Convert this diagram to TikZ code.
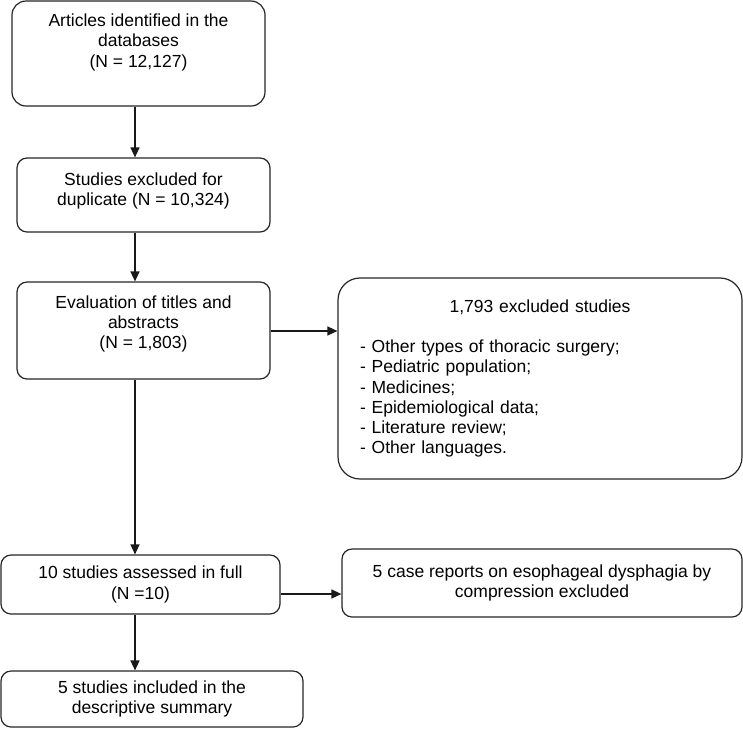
\documentclass[tikz,border=0pt]{standalone}
\usepackage{fontspec}
\setmainfont{Liberation Sans}
\usetikzlibrary{arrows.meta}

\begin{document}
\begin{tikzpicture}
    [
        x=1pt, y=-1pt,
        flow_box/.style={rectangle, rounded corners=10pt, draw=black!85, line width=1.2pt, fill=white, align=center, inner sep=0pt, font=\fontsize{17.5pt}{20.2pt}\selectfont},
        flow_arrow/.style={-{Triangle[length=10pt, width=9pt]}, line width=1.4pt, color=black!90},
    ]
        \useasboundingbox (0,0) rectangle (743,729);
        \coordinate (spine) at (135,0);
        \coordinate (screen_row) at (0,331);
        \coordinate (side_row) at (0,594);
        \node[flow_box, rounded corners=14pt, minimum width=253pt, minimum height=105pt, text depth=26pt] (found) at (138.5,53.5) {Articles identified in the\\databases\\(N = 12,127)} ;
        \node[flow_box, minimum width=253pt, minimum height=74pt, text depth=12pt] (dup) at (143.5,195) {Studies excluded for\\duplicate (N = 10,324)} ;
        \node[flow_box, minimum width=253pt, minimum height=97pt, text depth=17pt] (screen) at (143.5,330.5) {Evaluation of titles and\\abstracts\\(N = 1,803)} ;
        \node[flow_box, rounded corners=22pt, align=left, text width=360pt, minimum width=404pt, minimum height=201pt] (excluded) at (540,378.5) {\makebox[\hsize]{1,793 excluded studies}\\[20.2pt]- Other types of thoracic surgery;\\- Pediatric population;\\- Medicines;\\- Epidemiological data;\\- Literature review;\\- Other languages.} ;
        \node[flow_box, minimum width=279pt, minimum height=59pt] (full) at (140.5,584.5) {10 studies assessed in full\\(N =10)} ;
        \node[flow_box, minimum width=400pt, minimum height=68pt] (reports) at (542,583) {5 case reports on esophageal dysphagia by\\compression excluded} ;
        \node[flow_box, minimum width=302pt, minimum height=56pt] (included) at (152,699) {5 studies included in the\\descriptive summary} ;
        \draw[flow_arrow] (found.south -| spine) -- (dup.north -| spine) ;
        \draw[flow_arrow] (dup.south -| spine) -- (screen.north -| spine) ;
        \draw[flow_arrow] (screen.south -| spine) -- (full.north -| spine) ;
        \draw[flow_arrow] (full.south -| spine) -- (included.north -| spine) ;
        \draw[flow_arrow] (screen.east |- screen_row) -- (excluded.west |- screen_row) ;
        \draw[flow_arrow] (full.east |- side_row) -- (reports.west |- side_row) ;
    \end{tikzpicture}
\end{document}
